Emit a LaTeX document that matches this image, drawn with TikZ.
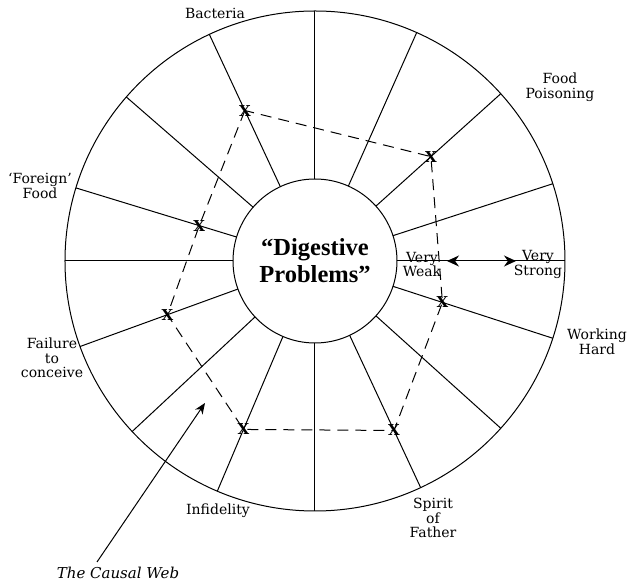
\documentclass[tikz,border=0pt]{standalone}
\usepackage{fontspec}
\setmainfont{DejaVu Serif}
\newfontfamily\titlefont{Liberation Serif}
\usetikzlibrary{arrows.meta}

\begin{document}
\begin{tikzpicture}[
            x = 1pt, y = 1pt, % one unit per pixel
            line width = 1pt, % line style
            ring/.style = {draw, circle, inner sep=0pt, outer sep=0pt},
            lbl/.style = {align=center, inner sep=0pt,
            font=\fontsize{14}{14.5}\selectfont},
            xm/.style = {inner sep=0pt, font=\fontsize{15}{15}\selectfont\bfseries},
            web/.style = {dash pattern=on 11pt off 7pt}
            ]
            \useasboundingbox (-315,-324) rectangle (315,261);

            \node[ring, minimum size=500pt] (rim) at (0,0) {};
            \node[ring, minimum size=164pt, align=center,
            font=\titlefont\bfseries\fontsize{24.5}{27}\selectfont] (hub) at (0,0) {“Digestive\\Problems”};

            \draw (hub.0) -- (rim.0);
            \draw (hub.18) -- (rim.18);
            \draw (hub.42) -- (rim.42);
            \draw (hub.66) -- (rim.66);
            \draw (hub.90) -- (rim.90);
            \draw (hub.115) -- (rim.115);
            \draw (hub.139) -- (rim.139);
            \draw (hub.163) -- (rim.163);
            \draw (hub.180) -- (rim.180);
            \draw (hub.200) -- (rim.200);
            \draw (hub.223) -- (rim.223);
            \draw (hub.247) -- (rim.247);
            \draw (hub.270) -- (rim.270);
            \draw (hub.295) -- (rim.295);
            \draw (hub.318) -- (rim.318);
            \draw (hub.342) -- (rim.342);

            \node[xm] (x1) at (115:166pt) {X};
            \node[xm] (x2) at (42:156pt) {X};
            \node[xm] (x3) at (163:121pt) {X};
            \node[xm] (x4) at (200:157pt) {X};
            \node[xm] (x5) at (247:183pt) {X};
            \node[xm] (x6) at (295:187pt) {X};
            \node[xm] (x7) at (342:134pt) {X};

            \draw[web] (x1.center) -- (x3.center) -- (x4.center) -- (x5.center)
            -- (x6.center) -- (x7.center) -- (x2.center) -- cycle;

            \node[lbl] (bacteria) at (-100,248) {Bacteria};
            \node[lbl] (food) at (245,174) {Food\\Poisoning};
            \node[lbl] (foreign) at (-275,75) {‘Foreign’\\Food};
            \node[lbl] (failure) at (-263,-97) {Failure\\to\\conceive};
            \node[lbl] (working) at (282,-81) {Working\\Hard};
            \node[lbl] (infidelity) at (-97,-250) {Infidelity};
            \node[lbl] (spirit) at (118,-257) {Spirit\\of\\Father};
            \node[lbl] (weak) at (107,-3.5) {Very\\Weak};
            \node[lbl] (strong) at (223,-3.5) {Very\\Strong};

            \coordinate (w) at (132,0);
            \coordinate (s) at (201,0);
            \draw[{Stealth[length=12pt,width=11pt]}-{Stealth[length=12pt,width=11pt]}] (w) -- (s);

            \node[lbl, font=\itshape\fontsize{15}{15}\selectfont] (web) at (-197,-312) {The Causal Web};
            \coordinate (tail) at (-218,-301);
            \coordinate (tip) at (-110,-142);
            \draw[-{Stealth[length=11pt,width=9pt]}] (tail) -- (tip);
        \end{tikzpicture}
\end{document}
